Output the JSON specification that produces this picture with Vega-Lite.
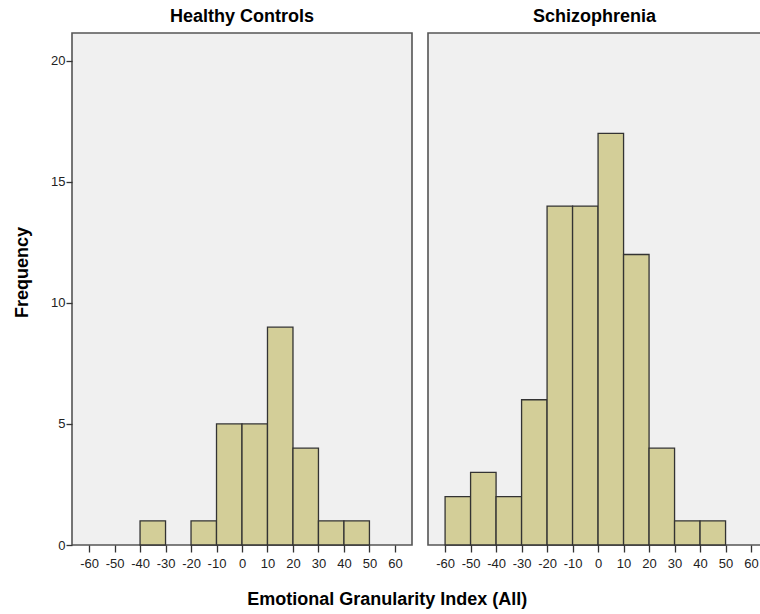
{
  "$schema": "https://vega.github.io/schema/vega-lite/v6.json",
  "padding": {"left": 12, "top": 7, "right": 0, "bottom": 3},
  "background": "#ffffff",
  "datasets": {
    "hist": [
      {"group": "Healthy Controls", "bin_start": -40, "bin_end": -30, "count": 1},
      {"group": "Healthy Controls", "bin_start": -20, "bin_end": -10, "count": 1},
      {"group": "Healthy Controls", "bin_start": -10, "bin_end": 0, "count": 5},
      {"group": "Healthy Controls", "bin_start": 0, "bin_end": 10, "count": 5},
      {"group": "Healthy Controls", "bin_start": 10, "bin_end": 20, "count": 9},
      {"group": "Healthy Controls", "bin_start": 20, "bin_end": 30, "count": 4},
      {"group": "Healthy Controls", "bin_start": 30, "bin_end": 40, "count": 1},
      {"group": "Healthy Controls", "bin_start": 40, "bin_end": 50, "count": 1},
      {"group": "Schizophrenia", "bin_start": -60, "bin_end": -50, "count": 2},
      {"group": "Schizophrenia", "bin_start": -50, "bin_end": -40, "count": 3},
      {"group": "Schizophrenia", "bin_start": -40, "bin_end": -30, "count": 2},
      {"group": "Schizophrenia", "bin_start": -30, "bin_end": -20, "count": 6},
      {"group": "Schizophrenia", "bin_start": -20, "bin_end": -10, "count": 14},
      {"group": "Schizophrenia", "bin_start": -10, "bin_end": 0, "count": 14},
      {"group": "Schizophrenia", "bin_start": 0, "bin_end": 10, "count": 17},
      {"group": "Schizophrenia", "bin_start": 10, "bin_end": 20, "count": 12},
      {"group": "Schizophrenia", "bin_start": 20, "bin_end": 30, "count": 4},
      {"group": "Schizophrenia", "bin_start": 30, "bin_end": 40, "count": 1},
      {"group": "Schizophrenia", "bin_start": 40, "bin_end": 50, "count": 1}
    ]
  },
  "title": {
    "text": "Emotional Granularity Index (All)",
    "orient": "bottom",
    "anchor": "middle",
    "font": "Liberation Sans",
    "fontSize": 18,
    "fontWeight": "bold",
    "color": "#000000",
    "offset": 20
  },
  "spacing": 14,
  "config": {
    "view": {"fill": "#f0f0f0", "stroke": "#555555", "strokeWidth": 1.6},
    "axis": {
      "labelFont": "Liberation Sans",
      "labelFontSize": 13,
      "labelColor": "#222222",
      "titleFont": "Liberation Sans",
      "titleFontSize": 18,
      "titleFontWeight": "bold",
      "titleColor": "#000000",
      "tickColor": "#333333",
      "tickWidth": 1.3,
      "grid": false,
      "domain": false
    },
    "title": {"font": "Liberation Sans", "fontSize": 18, "fontWeight": "bold", "color": "#000000", "anchor": "middle"}
  },
  "hconcat": [
    {
      "data": {"name": "hist"},
      "width": 340,
      "height": 512,
      "title": {"text": "Healthy Controls", "offset": 7},
      "transform": [{"filter": "datum.group == 'Healthy Controls'"}],
      "mark": {"type": "bar", "fill": "#d3ce98", "stroke": "#333333", "strokeWidth": 1.3},
      "encoding": {
        "x": {
          "field": "bin_start", "type": "quantitative",
          "scale": {"domain": [-66.7, 66.7], "nice": false, "zero": false},
          "axis": {"values": [-60, -50, -40, -30, -20, -10, 0, 10, 20, 30, 40, 50, 60], "title": null, "labelPadding": 5, "tickSize": 7, "labelExpr": "'' + datum.value"}
        },
        "x2": {"field": "bin_end"},
        "y": {
          "field": "count", "type": "quantitative",
          "scale": {"domain": [0, 21.15], "nice": false},
          "axis": {"values": [0, 5, 10, 15, 20], "title": "Frequency", "titlePadding": 19, "titleY": 239, "labelPadding": 1, "tickSize": 6}
        },
        "y2": {"datum": 0}
      }
    },
    {
      "data": {"name": "hist"},
      "width": 333,
      "height": 512,
      "title": {"text": "Schizophrenia", "offset": 7},
      "transform": [{"filter": "datum.group == 'Schizophrenia'"}],
      "mark": {"type": "bar", "fill": "#d3ce98", "stroke": "#333333", "strokeWidth": 1.3},
      "encoding": {
        "x": {
          "field": "bin_start", "type": "quantitative",
          "scale": {"domain": [-66.7, 63.9], "nice": false, "zero": false},
          "axis": {"values": [-60, -50, -40, -30, -20, -10, 0, 10, 20, 30, 40, 50, 60], "title": null, "labelPadding": 5, "tickSize": 7, "labelExpr": "'' + datum.value"}
        },
        "x2": {"field": "bin_end"},
        "y": {
          "field": "count", "type": "quantitative",
          "scale": {"domain": [0, 21.15], "nice": false},
          "axis": null
        },
        "y2": {"datum": 0}
      }
    }
  ]
}
